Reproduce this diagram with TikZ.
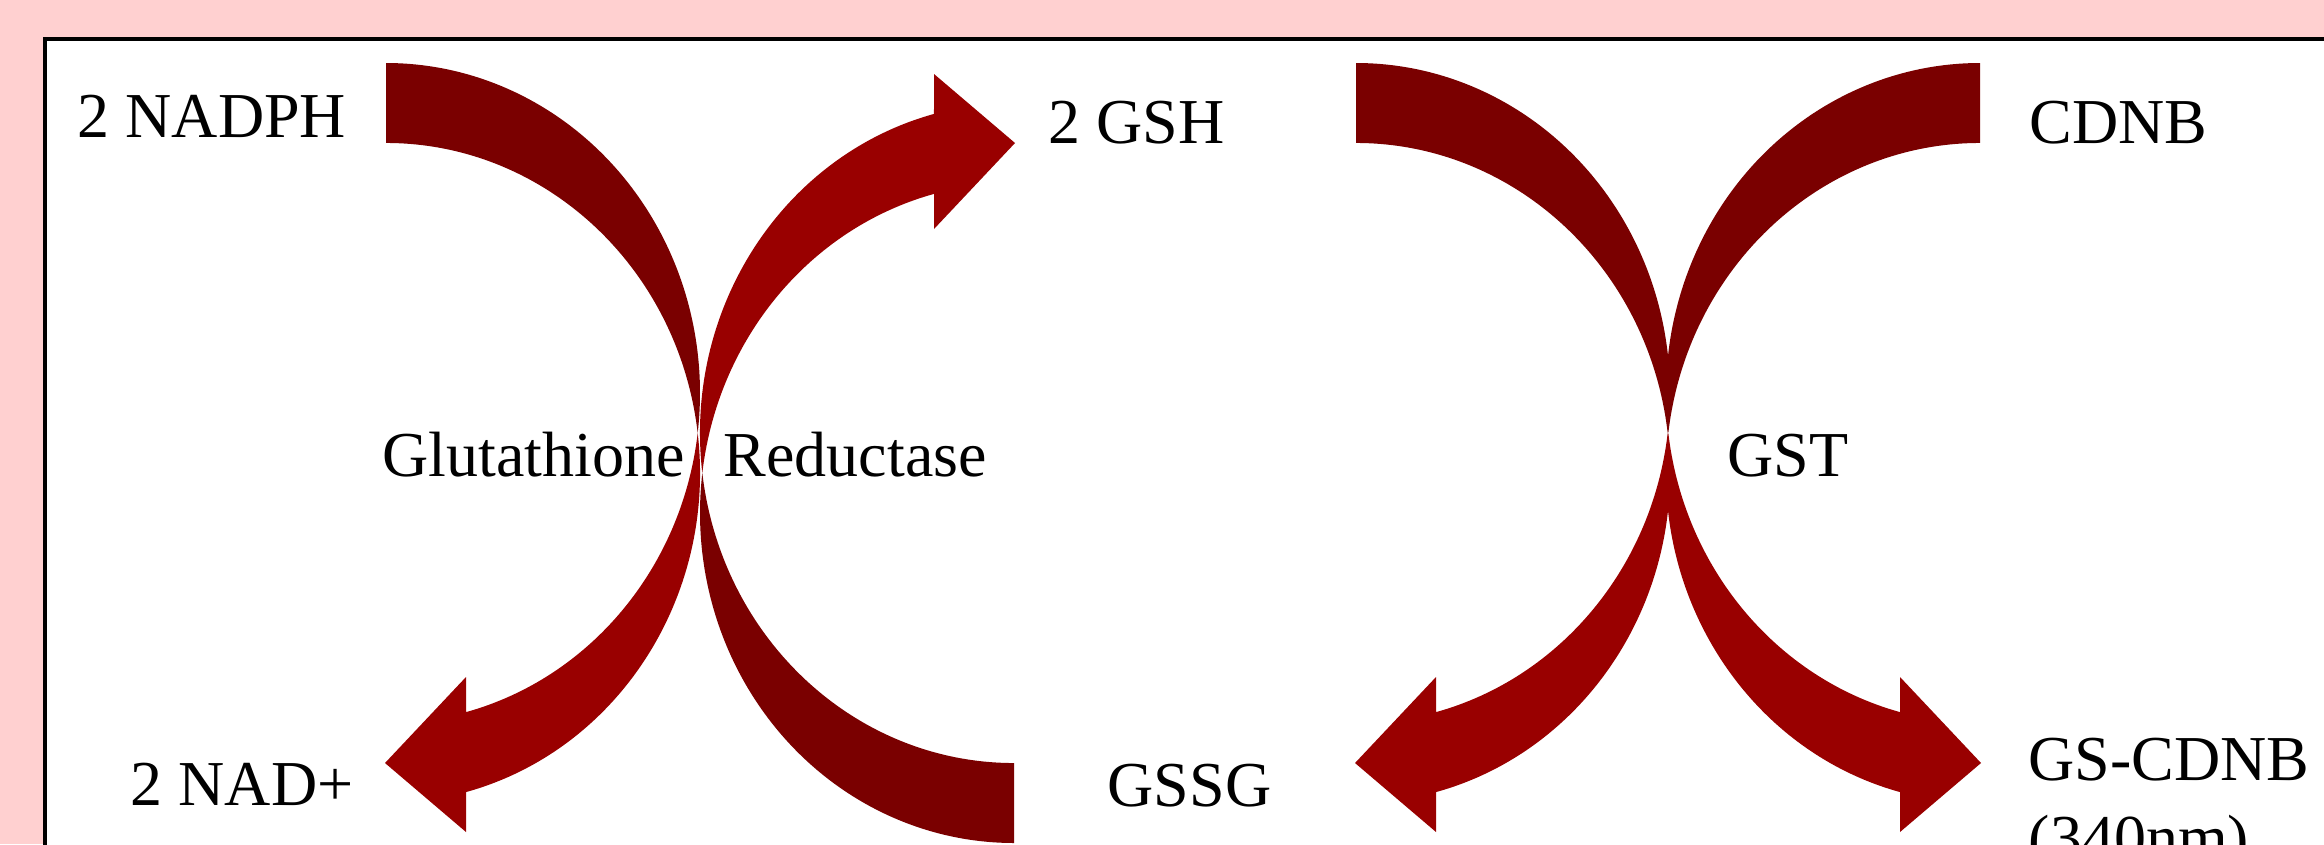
\documentclass[tikz,border=0pt]{standalone}
\usepackage{fontspec}
\setmainfont{Liberation Serif}
\definecolor{pinkbg}{HTML}{FFD0D0}
\definecolor{darkred}{HTML}{7A0000}
\definecolor{brightred}{HTML}{990000}
% one curved arrow: tail at top (x=0), bulging right, head at bottom pointing left
\newcommand{\curvedband}{%
  \fill[darkred] (0,781) arc[start angle=90, end angle=-6.96, x radius=314, y radius=330]
     arc[start angle=6.96, end angle=90, x radius=314, y radius=330] -- cycle;
  \fill[brightred] (311.7,411) arc[start angle=6.96, end angle=-75.24, x radius=314, y radius=330]
     -- (80,12) -- (-1,81) -- (80,167) -- (80,131.9)
     arc[start angle=-75.24, end angle=-6.96, x radius=314, y radius=330] -- cycle;
}
\begin{document}
\begin{tikzpicture}[x=0.01cm,y=0.01cm,
  lbl/.style={font=\fontsize{18.2}{22}\selectfont, inner sep=0pt, anchor=base west, text=black}]
\useasboundingbox (0,0) rectangle (2324,844);
\clip (0,0) rectangle (2324,844);
\fill[pinkbg] (0,0) rectangle (2324,844);
\filldraw[fill=white, draw=black, line width=0.04cm] (45.3,804.7) rectangle (2500,-100);
% left pair (Glutathione Reductase)
\begin{scope}[shift={(386,0)}]\curvedband\end{scope}
\begin{scope}[rotate around={180:(700,391)}]
  \begin{scope}[shift={(386,0)}]\curvedband\end{scope}
\end{scope}
% right pair (GST)
\begin{scope}[shift={(1356,0)}]\curvedband\end{scope}
\begin{scope}[shift={(1980,0)}, xscale=-1]\curvedband\end{scope}
% labels
\node[lbl] (nadph) at (77,707) {2 NADPH};
\node[lbl] (gsh) at (1048,701) {2 GSH};
\node[lbl] (cdnb) at (2029,701) {CDNB};
\node[lbl] (glut) at (382,368) {Glutathione};
\node[lbl] (red) at (723,368) {Reductase};
\node[lbl] (gst) at (1727,368) {GST};
\node[lbl] (nad) at (130,39) {2 NAD+};
\node[lbl] (gssg) at (1107,38) {GSSG};
\node[lbl] (gscdnb) at (2028,64) {GS-CDNB};
\node[lbl] (nm) at (2028,-15) {(340nm)};
\end{tikzpicture}
\end{document}
